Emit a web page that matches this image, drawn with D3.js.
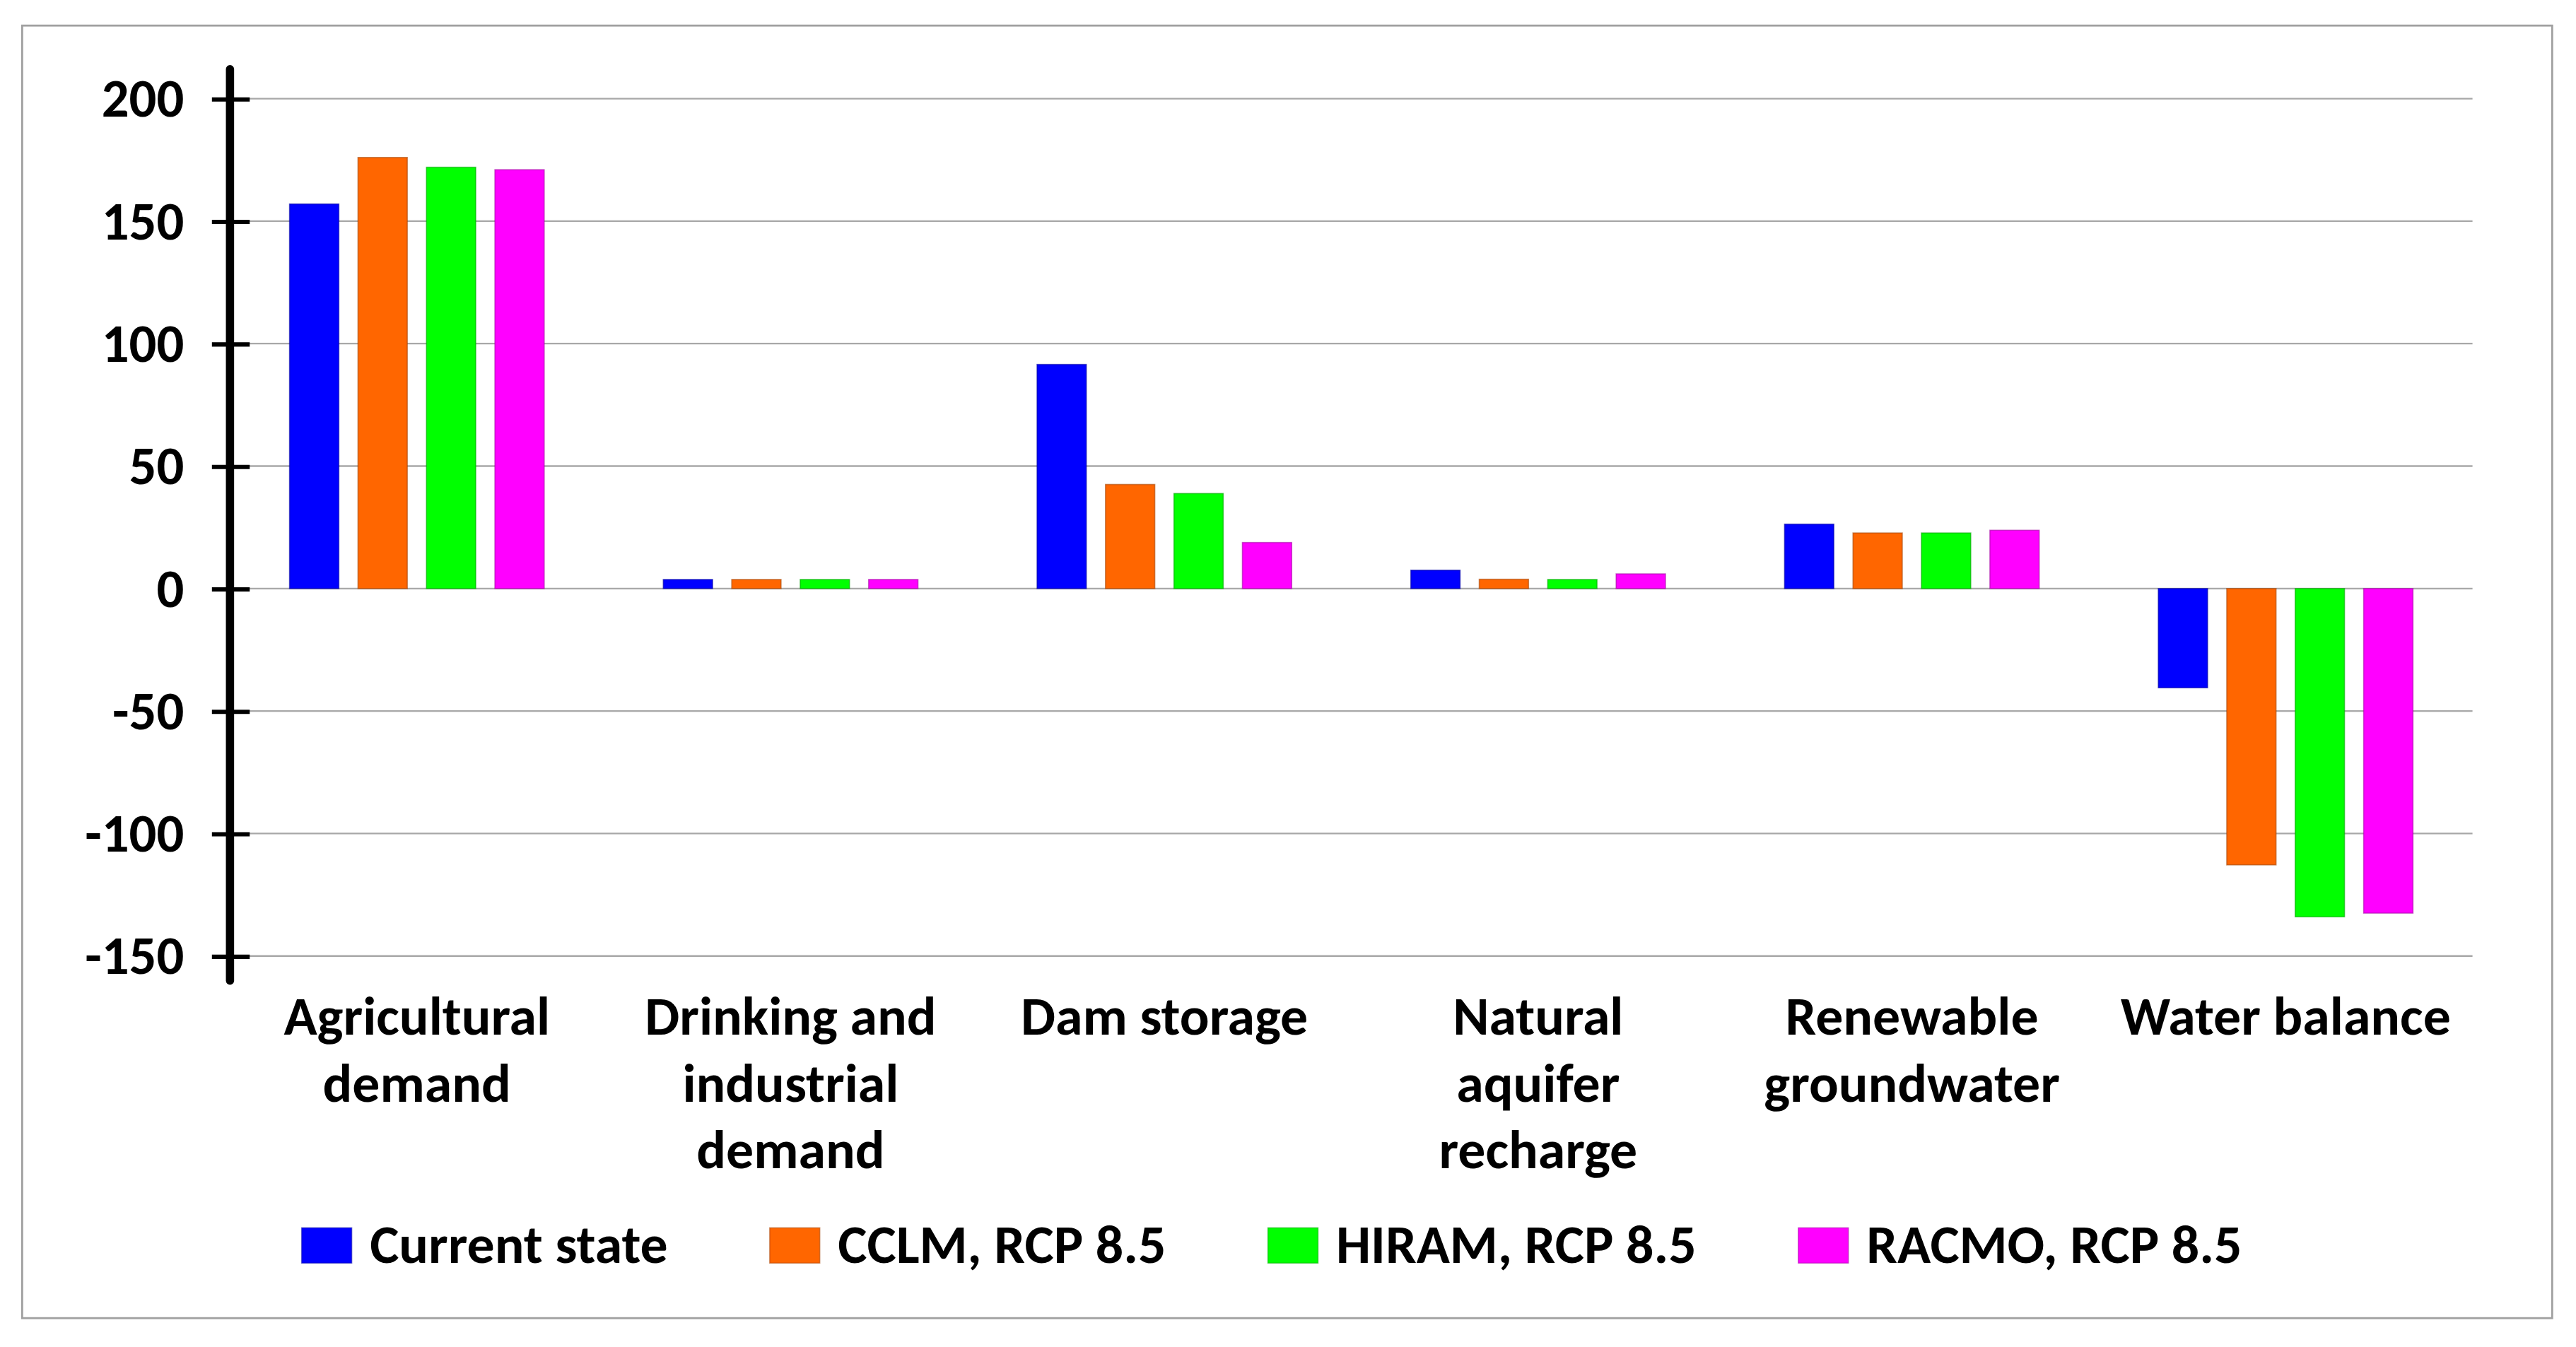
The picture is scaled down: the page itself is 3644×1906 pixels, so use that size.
<!DOCTYPE html>
<html>
<head>
<meta charset="utf-8">
<script src="https://cdn.jsdelivr.net/npm/d3@7"></script>
<style>
  html, body { margin: 0; padding: 0; background: #fff; }
  svg { display: block; }
  text { font-family: Carlito, "Liberation Sans", Arial, sans-serif; font-weight: bold; fill: #000; }
</style>
</head>
<body>
<div id="chart"></div>
<script>
// categories, with the line breaks used under the axis
const categories = ["Agricultural demand", "Drinking and industrial demand", "Dam storage",
    "Natural aquifer recharge", "Renewable groundwater", "Water balance"];
const categoryLines = [
    ["Agricultural", "demand"],
    ["Drinking and", "industrial", "demand"],
    ["Dam storage"],
    ["Natural", "aquifer", "recharge"],
    ["Renewable", "groundwater"],
    ["Water balance"]
];

const seriesNames = ["Current state", "CCLM, RCP 8.5", "HIRAM, RCP 8.5", "RACMO, RCP 8.5"];
const seriesColors = ["#0000ff", "#ff6600", "#00ff00", "#ff00ff"];

// values per series, same order as categories
const currentState = [157, 3.7, 91.5, 7.5, 26.3, -40.5];
const cclm = [176, 3.7, 42.5, 3.8, 22.7, -112.8];
const hiram = [172, 3.7, 38.8, 3.7, 22.7, -134];
const racmo = [171, 3.7, 18.8, 6, 23.8, -132.5];
const seriesValues = [currentState, cclm, hiram, racmo];

const yTicks = [-150, -100, -50, 0, 50, 100, 150, 200];

// drawn in a 1568x820 space, scaled up to the page size
const W = 1568, H = 820;
const plotLeft = 140, plotRight = 1505;
const plotTop = 60, plotBottom = 582;
const groupWidth = 155;
const fontSize = 33.5;

const svg = d3.select("#chart").append("svg")
    .attr("width", 3644)
    .attr("height", 1906)
    .attr("viewBox", [0, 0, W, H]);

svg.append("rect")
    .attr("x", 13.5).attr("y", 15.5)
    .attr("width", 1540).attr("height", 787)
    .attr("fill", "#fff")
    .attr("stroke", "#a0a0a0")
    .attr("stroke-width", 1.2);

const x = d3.scaleBand()
    .domain(categories)
    .range([plotLeft, plotRight])
    .padding(0);

const xs = d3.scaleBand()
    .domain(seriesNames)
    .range([x.bandwidth() / 2 - groupWidth / 2, x.bandwidth() / 2 + groupWidth / 2])
    .paddingInner(0.28);

const y = d3.scaleLinear()
    .domain([-150, 200])
    .range([plotBottom, plotTop]);

// gridlines
svg.append("g")
    .selectAll("line")
    .data(yTicks)
    .join("line")
    .attr("x1", plotLeft)
    .attr("x2", plotRight)
    .attr("y1", d => y(d))
    .attr("y2", d => y(d))
    .attr("stroke", "#a8a8a8")
    .attr("stroke-width", 1);

// bars
const groups = svg.append("g")
    .selectAll("g")
    .data(categories)
    .join("g")
    .attr("transform", d => `translate(${x(d)},0)`);

groups.selectAll("rect")
    .data((d, i) => seriesNames.map((s, j) => ({ series: s, value: seriesValues[j][i], color: seriesColors[j] })))
    .join("rect")
    .attr("x", d => xs(d.series))
    .attr("width", xs.bandwidth())
    .attr("y", d => y(Math.max(0, d.value)))
    .attr("height", d => Math.abs(y(d.value) - y(0)))
    .attr("fill", d => d.color)
    .attr("stroke", d => d3.color(d.color).darker(1.2))
    .attr("stroke-opacity", 0.6)
    .attr("stroke-width", 0.7);

// y axis
const axis = svg.append("g")
    .attr("transform", `translate(${plotLeft},0)`)
    .call(d3.axisLeft(y).tickValues(yTicks).tickSize(11).tickPadding(17).tickFormat(d => String(d)));

axis.select(".domain").remove();
axis.selectAll(".tick line")
    .attr("x1", 12)
    .attr("stroke", "#000")
    .attr("stroke-width", 2.6);
axis.selectAll(".tick text")
    .attr("font-size", 33)
    .attr("font-family", null);

axis.append("line")
    .attr("x1", 0).attr("x2", 0)
    .attr("y1", 42).attr("y2", 597)
    .attr("stroke", "#000")
    .attr("stroke-width", 5)
    .attr("stroke-linecap", "round");

// category labels
const labels = svg.append("g")
    .selectAll("text")
    .data(categories)
    .join("text")
    .attr("text-anchor", "middle")
    .attr("font-size", fontSize)
    .attr("transform", d => `translate(${x(d) + x.bandwidth() / 2},630)`);

labels.selectAll("tspan")
    .data((d, i) => categoryLines[i])
    .join("tspan")
    .attr("x", 0)
    .attr("y", (d, i) => i * 40.7)
    .text(d => d);

// legend
const legend = svg.append("g");
let lx = 183.6;
seriesNames.forEach((name, i) => {
    legend.append("rect")
        .attr("x", lx).attr("y", 747.5)
        .attr("width", 30.5).attr("height", 21.5)
        .attr("fill", seriesColors[i])
        .attr("stroke", d3.color(seriesColors[i]).darker(1.2))
        .attr("stroke-opacity", 0.5)
        .attr("stroke-width", 0.7);
    const t = legend.append("text")
        .attr("x", lx + 41.5)
        .attr("y", 769)
        .attr("font-size", fontSize)
        .text(name);
    lx += 41.5 + t.node().getComputedTextLength() + 62;
});
</script>
</body>
</html>
